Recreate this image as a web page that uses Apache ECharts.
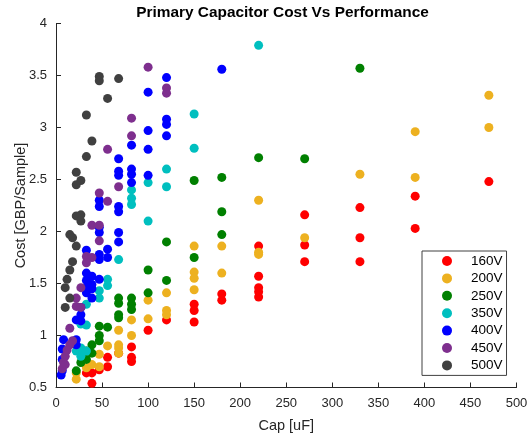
<!DOCTYPE html>
<html>
<head>
<meta charset="utf-8">
<script src="https://cdn.jsdelivr.net/npm/echarts@6/dist/echarts.min.js"></script>
<style>
html,body{margin:0;padding:0;background:#fff;}
#chart{width:530px;height:441px;}
</style>
</head>
<body>
<div id="chart"></div>
<script>
// ---- Data (Cap [uF], Cost [GBP/Sample]) ----
const seriesNames = ["160V", "200V", "250V", "350V", "400V", "450V", "500V"];
const xTicks = [0, 50, 100, 150, 200, 250, 300, 350, 400, 450, 500];
const yTicks = [0.5, 1, 1.5, 2, 2.5, 3, 3.5, 4];

const v160 = [[470,2.48],[390,2.34],[330,2.23],[270,2.16],[390,2.03],[330,1.94],[270,1.87],[220,1.86],[270,1.71],[330,1.71],[220,1.57],[220,1.46],[220,1.42],[180,1.40],[220,1.37],[180,1.34],[150,1.30],[150,1.24],[120,1.15],[150,1.13],[100,1.05],[82,0.89],[68,0.83],[82,0.79],[56,0.79],[82,0.75],[56,0.70],[47,0.67],[39,0.64],[33,0.64],[39,0.54]];
const v200 = [[470,3.31],[470,3.00],[390,2.96],[330,2.55],[390,2.52],[220,2.30],[270,1.94],[180,1.86],[150,1.86],[220,1.80],[220,1.78],[150,1.61],[180,1.60],[150,1.55],[150,1.44],[120,1.41],[100,1.34],[120,1.24],[120,1.20],[100,1.16],[82,1.15],[68,1.05],[82,1.00],[68,0.91],[56,0.90],[68,0.88],[68,0.83],[47,0.82],[39,0.72],[47,0.70],[33,0.69],[22,0.64],[22,0.58]];
const v250 = [[330,3.57],[220,2.71],[270,2.70],[180,2.52],[150,2.49],[180,2.19],[180,1.97],[120,1.90],[150,1.75],[100,1.63],[120,1.53],[100,1.41],[82,1.36],[68,1.36],[68,1.31],[82,1.30],[82,1.25],[68,1.20],[68,1.17],[47,1.09],[56,1.08],[47,1.00],[47,0.95],[39,0.91],[33,0.85],[39,0.83],[33,0.77],[27,0.74],[22,0.66]];
const v350 = [[220,3.79],[150,3.13],[150,2.80],[120,2.60],[100,2.47],[120,2.43],[82,2.40],[82,2.32],[82,2.26],[100,2.10],[68,1.73],[56,1.54],[56,1.48],[47,1.43],[47,1.36],[33,1.30],[27,1.11],[33,1.10],[22,0.85],[27,0.88],[27,0.80],[33,0.85]];
const v400 = [[180,3.56],[120,3.48],[100,3.34],[120,3.08],[120,3.03],[100,2.97],[120,2.92],[82,2.83],[100,2.79],[68,2.70],[82,2.60],[68,2.58],[82,2.55],[68,2.54],[100,2.54],[82,2.47],[47,2.30],[47,2.24],[68,2.24],[68,2.19],[47,2.04],[47,1.99],[68,1.99],[68,1.90],[33,1.82],[56,1.83],[47,1.78],[56,1.75],[47,1.73],[33,1.60],[39,1.57],[33,1.53],[47,1.54],[39,1.49],[33,1.46],[39,1.45],[33,1.41],[39,1.36],[27,1.27],[27,1.20],[22,1.15],[27,1.14],[22,0.96],[22,0.91],[8.2,0.96],[6.8,0.87],[6.8,0.77],[5.6,0.62],[6.8,0.66]];
const v450 = [[100,3.58],[120,3.38],[120,3.33],[82,3.09],[82,2.92],[56,2.79],[68,2.43],[47,2.37],[56,2.29],[39,2.06],[47,2.06],[47,1.91],[33,1.76],[39,1.75],[33,1.70],[27,1.46],[22,1.36],[22,1.28],[27,1.27],[15,1.07],[18,0.95],[15,0.91],[12,0.86],[10,0.80],[8.2,0.74],[6.8,0.68],[10,0.72]];
const v500 = [[47,3.49],[47,3.45],[68,3.47],[56,3.28],[33,3.12],[39,2.87],[33,2.72],[22,2.57],[27,2.49],[22,2.45],[27,2.16],[22,2.15],[27,2.10],[15,1.97],[18,1.94],[22,1.86],[18,1.71],[15,1.63],[12,1.54],[10,1.46],[15,1.36],[10,1.27]];

const allData = [v160, v200, v250, v350, v400, v450, v500];
const colors = ["#ff0000", "#edb120", "#008000", "#00bfbf", "#0000ff", "#7e2f8e", "#404040"];

const FONT = "'Liberation Sans', Arial, Helvetica, sans-serif";
const AX = "#262626";

const chart = echarts.init(document.getElementById('chart'), null, {renderer: 'canvas'});
chart.setOption({
  animation: false,
  backgroundColor: '#ffffff',
  title: {
    text: 'Primary Capacitor Cost Vs Performance',
    left: 277.5, top: 0, textAlign: 'center',
    textStyle: {fontFamily: FONT, fontSize: 15.4, fontWeight: 'bold', color: '#000'}
  },
  grid: {left: 56, right: 13.5, top: 23.5, bottom: 53.5, containLabel: false, outerBoundsMode: 'none'},
  xAxis: {
    type: 'value', min: xTicks[0], max: xTicks[xTicks.length - 1], interval: 50,
    name: 'Cap [uF]', nameLocation: 'middle', nameGap: 31, nameMoveOverlap: false,
    nameTextStyle: {fontFamily: FONT, fontSize: 14.5, color: AX},
    axisLine: {show: true, lineStyle: {color: AX, width: 1}},
    axisTick: {show: true, inside: true, length: 5, lineStyle: {color: AX}},
    axisLabel: {fontFamily: FONT, fontSize: 13, color: AX, margin: 9},
    splitLine: {show: false}
  },
  yAxis: {
    type: 'value', min: yTicks[0], max: yTicks[yTicks.length - 1], interval: 0.5,
    name: 'Cost [GBP/Sample]', nameLocation: 'middle', nameGap: 27.5, nameMoveOverlap: false,
    nameTextStyle: {fontFamily: FONT, fontSize: 14.5, color: AX},
    axisLine: {show: true, lineStyle: {color: AX, width: 1}},
    axisTick: {show: true, inside: true, length: 5, lineStyle: {color: AX}},
    axisLabel: {fontFamily: FONT, fontSize: 13, color: AX, margin: 9},
    splitLine: {show: false}
  },
  legend: {
    orient: 'vertical', left: 422, top: 251,
    backgroundColor: '#fff', borderColor: '#404040', borderWidth: 1,
    padding: [3, 4, 3, 20],
    itemWidth: 10, itemHeight: 10, itemGap: 3.4, icon: 'circle',
    textStyle: {fontFamily: FONT, fontSize: 13.5, color: '#000', lineHeight: 14, padding: [0, 0, 0, 14]},
    data: seriesNames
  },
  series: seriesNames.map((n, i) => ({
    name: n, type: 'scatter', data: allData[i], symbolSize: 9,
    itemStyle: {color: colors[i], opacity: 1}
  }))
});
</script>
</body>
</html>
